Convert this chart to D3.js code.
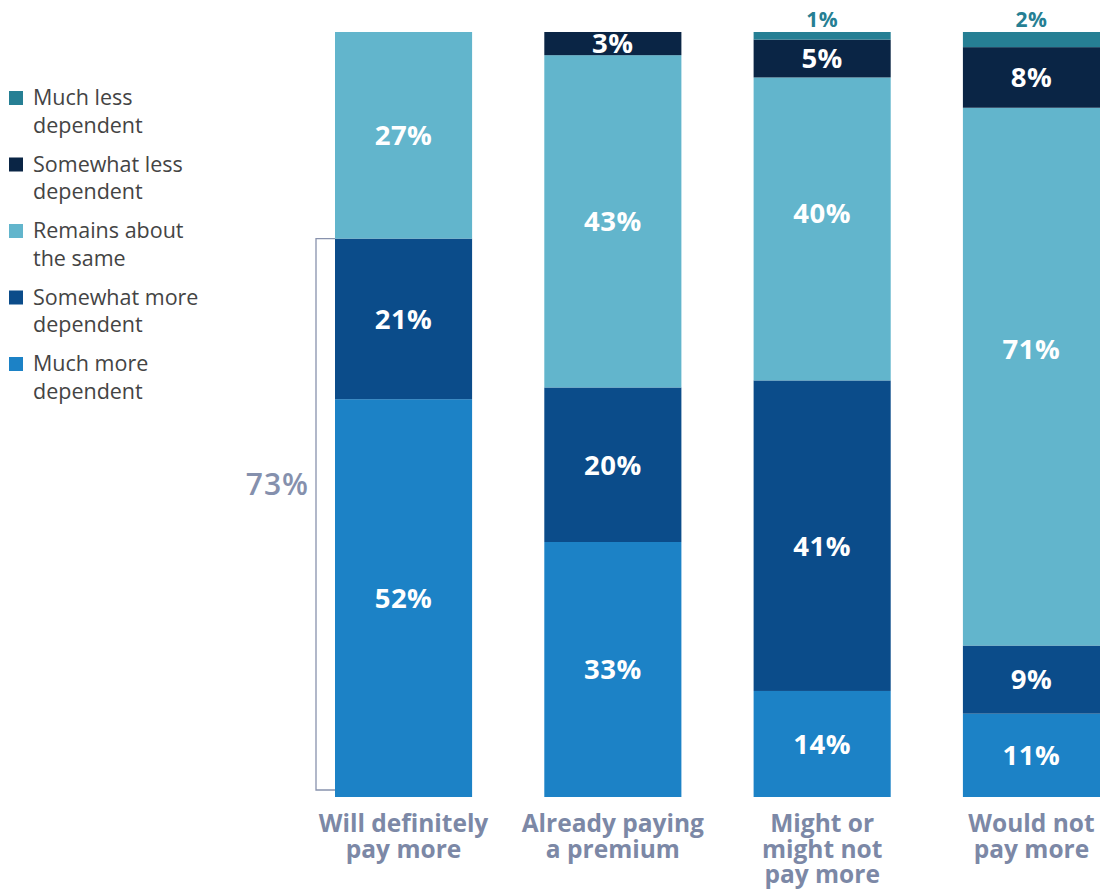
<!DOCTYPE html>
<html>
<head>
<meta charset="utf-8">
<script src="https://cdn.jsdelivr.net/npm/d3@7"></script>
<style>
  html, body { margin: 0; padding: 0; background: #fff; }
  svg { display: block; }
</style>
</head>
<body>
<svg id="chart" width="1105" height="891"></svg>
<script>
// Groups along the x axis (each label split into its display lines)
const categories = ["Will definitely pay more", "Already paying a premium", "Might or might not pay more", "Would not pay more"];
const categoryLines = [
  ["Will definitely", "pay more"],
  ["Already paying", "a premium"],
  ["Might or", "might not", "pay more"],
  ["Would not", "pay more"]
];

// Response series, stacked bottom to top
const seriesKeys = ["Much more dependent", "Somewhat more dependent", "Remains about the same", "Somewhat less dependent", "Much less dependent"];
const legendLines = [
  ["Much less", "dependent"],
  ["Somewhat less", "dependent"],
  ["Remains about", "the same"],
  ["Somewhat more", "dependent"],
  ["Much more", "dependent"]
];
const seriesColors = ["#1c82c6", "#0b4c8a", "#62b5cc", "#0a2545", "#267f94"];

// Percent of respondents per group, one array per series
const muchMore     = [52, 33, 14, 11];
const somewhatMore = [21, 20, 41, 9];
const remainsSame  = [27, 43, 40, 71];
const somewhatLess = [0, 3, 5, 8];
const muchLess     = [0, 0, 1, 2];

// Combined "more dependent" share for the first group
const bracketLabel = "73%";

// Vertical nudges (px) for a few in-bar labels, keyed "series|group index"
const labelNudge = { "Remains about the same|2": -16, "Somewhat more dependent|2": 10, "Remains about the same|3": -28 };

const seriesValues = [muchMore, somewhatMore, remainsSame, somewhatLess, muchLess];
const rows = categories.map((c, i) => {
  const r = { category: c };
  seriesKeys.forEach((k, j) => { r[k] = seriesValues[j][i]; });
  return r;
});

const svg = d3.select("#chart");
const font = "'Open Sans', sans-serif";

const x = d3.scaleBand().domain(categories).range([335, 1100]).paddingInner(0.345).paddingOuter(0);
const y = d3.scaleLinear().domain([0, 1]).range([797, 32]);

const stack = d3.stack().keys(seriesKeys).offset(d3.stackOffsetExpand);
const stacked = stack(rows);
const color = d3.scaleOrdinal().domain(seriesKeys).range(seriesColors);

// Stacked bars
const layers = svg.append("g").selectAll("g").data(stacked).join("g")
  .attr("fill", d => color(d.key));

layers.selectAll("rect").data(d => d.map(s => ({ key: d.key, s })))
  .join("rect")
  .attr("x", d => x(d.s.data.category))
  .attr("width", x.bandwidth())
  .attr("y", d => y(d.s[1]))
  .attr("height", d => y(d.s[0]) - y(d.s[1]));

// Value labels: inside tall-enough segments, above the bar for the thin top ones
const labels = [];
stacked.forEach((layer, j) => {
  layer.forEach((s, i) => {
    const v = seriesValues[j][i];
    if (!v) return;
    const h = y(s[0]) - y(s[1]);
    const cx = x(s.data.category) + x.bandwidth() / 2;
    const nudge = labelNudge[layer.key + "|" + i] || 0;
    if (h >= 20) {
      labels.push({ text: v + "%", x: cx, y: (y(s[0]) + y(s[1])) / 2 + nudge, fill: "#ffffff", size: 27.5 });
    } else {
      labels.push({ text: v + "%", x: cx, y: y(1) - 13, fill: "#267f94", size: 21 });
    }
  });
});

svg.append("g").selectAll("text").data(labels).join("text")
  .attr("x", d => d.x)
  .attr("y", d => d.y)
  .attr("dy", "0.36em")
  .attr("text-anchor", "middle")
  .attr("font-family", font)
  .attr("font-weight", 700)
  .attr("font-size", d => d.size)
  .attr("letter-spacing", 0.5)
  .attr("fill", d => d.fill)
  .text(d => d.text);

// Bracket spanning the two "more dependent" segments of the first group
const first = rows[0];
const bracketTop = y((first[seriesKeys[0]] + first[seriesKeys[1]]) / 100);
const bracketBottom = y(0) - 7;
const bx0 = x(categories[0]) - 19;
const bx1 = x(categories[0]);
svg.append("path")
  .attr("d", `M${bx1},${bracketTop}H${bx0}V${bracketBottom}H${bx1}`)
  .attr("fill", "none")
  .attr("stroke", "#8892ad")
  .attr("stroke-width", 1.3);
svg.append("text")
  .attr("x", bx0 - 7)
  .attr("y", bracketTop + (bracketBottom - bracketTop) * 0.445)
  .attr("dy", "0.36em")
  .attr("text-anchor", "end")
  .attr("font-family", font)
  .attr("font-weight", 600)
  .attr("font-size", 30)
  .attr("letter-spacing", 1)
  .attr("fill", "#8590ad")
  .text(bracketLabel);

// Category labels below the bars
const xLab = svg.append("g").selectAll("text").data(categories).join("text")
  .attr("x", d => x(d) + x.bandwidth() / 2)
  .attr("y", 832)
  .attr("text-anchor", "middle")
  .attr("font-family", font)
  .attr("font-weight", 700)
  .attr("font-size", 24.5)
  .attr("fill", "#7c88a6");
xLab.each(function(d, i) {
  d3.select(this).selectAll("tspan").data(categoryLines[i]).join("tspan")
    .attr("x", x(d) + x.bandwidth() / 2)
    .attr("dy", (t, k) => k === 0 ? 0 : 25.5)
    .text(t => t);
});

// Legend, top item is the top of the stack
const legendOrder = seriesKeys.slice().reverse();
const legend = svg.append("g").selectAll("g").data(legendOrder).join("g")
  .attr("transform", (d, i) => `translate(9, ${91 + i * 66.5})`);
legend.append("rect")
  .attr("width", 14).attr("height", 14)
  .attr("fill", d => color(d));
legend.append("text")
  .attr("x", 24)
  .attr("y", 14)
  .attr("font-family", font)
  .attr("font-size", 21.5)
  .attr("fill", "#444444")
  .each(function(d, i) {
    d3.select(this).selectAll("tspan").data(legendLines[i]).join("tspan")
      .attr("x", 24)
      .attr("dy", (t, k) => k === 0 ? 0 : 27.5)
      .text(t => t);
  });
</script>
</body>
</html>
